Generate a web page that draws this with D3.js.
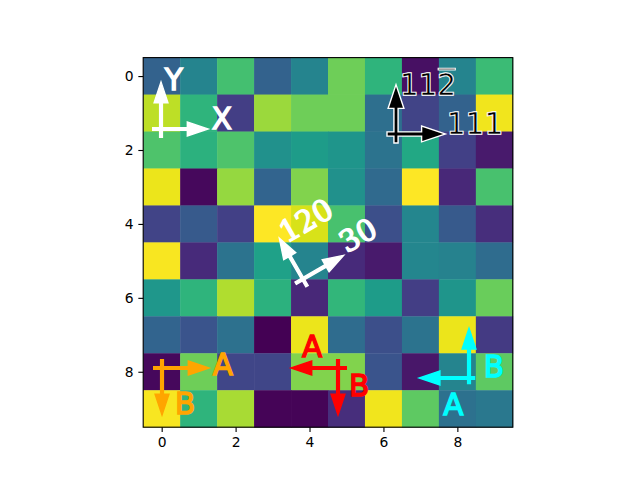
<!DOCTYPE html>
<html><head><meta charset="utf-8">
<script src="https://cdn.jsdelivr.net/npm/d3@7"></script>
<style>body{margin:0;background:#fff}svg{display:block}</style>
</head><body>
<svg id="chart" width="640" height="480"></svg>
<script>
const row0 = [0.31, 0.45, 0.70, 0.31, 0.45, 0.78, 0.65, 0.04, 0.45, 0.68];
const row1 = [0.90, 0.65, 0.18, 0.85, 0.78, 0.78, 0.36, 0.20, 0.31, 0.98];
const row2 = [0.72, 0.64, 0.72, 0.50, 0.55, 0.52, 0.38, 0.60, 0.19, 0.07];
const row3 = [0.97, 0.02, 0.84, 0.32, 0.81, 0.50, 0.34, 1.00, 0.11, 0.71];
const row4 = [0.20, 0.28, 0.19, 1.00, 0.94, 0.71, 0.24, 0.46, 0.28, 0.13];
const row5 = [0.99, 0.12, 0.38, 0.57, 0.45, 0.12, 0.07, 0.46, 0.44, 0.35];
const row6 = [0.53, 0.65, 0.88, 0.64, 0.11, 0.66, 0.55, 0.18, 0.52, 0.77];
const row7 = [0.32, 0.26, 0.37, 0.00, 0.97, 0.35, 0.24, 0.38, 0.97, 0.17];
const row8 = [0.02, 0.78, 0.21, 0.21, 0.81, 0.81, 0.26, 0.06, 0.45, 0.75];
const row9 = [0.99, 0.65, 0.87, 0.01, 0.01, 0.13, 0.98, 0.75, 0.37, 0.40];
const rows = [row0,row1,row2,row3,row4,row5,row6,row7,row8,row9];
const xTicks = [0, 2, 4, 6, 8];
const yTicks = [0, 2, 4, 6, 8];

// direction-arrow annotations (labels and styles)
const arrowLabelsX = ['X', '111', '30', 'A', 'A', ' A'];
const arrowLabelsY = ['Y', '112', '120', 'B', ' B', 'B'];
const arrowColors = ['#ffffff', '#000000', '#ffffff', '#ff0000', '#ffa500', '#00ffff'];
const arrowAngles = [0, 0, 30, 0, 0, 0];
const arrowLengthSign = [1, 1, 1, -1, 1, -1];
const arrowAspect = [1, 1, 1, 1, -1, -1];
const arrowBack = [0.15, 0.15, 0.15, 0.15, 0.15, 0.1];
const arrowSepX = [0.01, 0.01, 0.01, 0.03, 0.01, 0.04];
const arrowSepY = [0, 0, 0, 0.03, -0.02, -0.1];
const arrowCrossX = [0.0482, 0.684, 0.432, 0.5271, 0.0509, 0.8815];
const arrowCrossY = [0.8068, 0.7933, 0.401, 0.1602, 0.1602, 0.1331];

const svg = d3.select('#chart');
const L = 143.2, R = 512.8, T = 57.6, B = 427.2;
const S = R - L;
const x = d3.scaleLinear().domain([-0.5, 9.5]).range([L, R]);
const y = d3.scaleLinear().domain([-0.5, 9.5]).range([T, B]);
const flat = rows.flat();
const color = d3.scaleSequential(d3.interpolateViridis).domain([d3.min(flat), d3.max(flat)]);

// image cells
const cells = [];
rows.forEach((r, i) => r.forEach((v, j) => cells.push({i, j, v})));
svg.append('g').selectAll('rect').data(cells).join('rect')
  .attr('x', d => x(d.j - 0.5)).attr('y', d => y(d.i - 0.5))
  .attr('width', d => x(d.j + 0.5) - x(d.j - 0.5) + 0.4)
  .attr('height', d => y(d.i + 0.5) - y(d.i - 0.5) + 0.4)
  .attr('fill', d => color(d.v));

// axes
const tk = 3.5 * 100 / 72;
const fontTick = 10 * 100 / 72;
const gx = svg.append('g').attr('transform', `translate(0,${B})`)
  .call(d3.axisBottom(x).tickValues(xTicks).tickSize(tk).tickPadding(tk * 1.0));
const gy = svg.append('g').attr('transform', `translate(${L},0)`)
  .call(d3.axisLeft(y).tickValues(yTicks).tickSize(tk).tickPadding(tk * 1.0));
[gx, gy].forEach(g => {
  g.select('.domain').remove();
  g.selectAll('line').attr('stroke', '#000').attr('stroke-width', 0.8 * 100 / 72);
  g.selectAll('text').attr('fill', '#000').style('font-family', 'DejaVu Sans').style('font-size', fontTick + 'px');
});
svg.append('rect').attr('x', L).attr('y', T).attr('width', S).attr('height', B - T)
  .attr('fill', 'none').attr('stroke', '#000').attr('stroke-width', 0.8 * 100 / 72);

// arrow shape helper ("Simple" arrow style)
const pt = 100 / 72;
const tailW = 2 * pt, headW = 10 * pt, headL = 15 * pt;
function arrowPath(x0, y0, x1, y1) {
  const dx = x1 - x0, dy = y1 - y0, len = Math.hypot(dx, dy);
  const ux = dx / len, uy = dy / len, nx = -uy, ny = ux;
  const hx = x1 - ux * headL, hy = y1 - uy * headL;
  const p = [
    [x0 + nx * tailW / 2, y0 + ny * tailW / 2],
    [hx + nx * tailW / 2, hy + ny * tailW / 2],
    [hx + nx * headW / 2, hy + ny * headW / 2],
    [x1, y1],
    [hx - nx * headW / 2, hy - ny * headW / 2],
    [hx - nx * tailW / 2, hy - ny * tailW / 2],
    [x0 - nx * tailW / 2, y0 - ny * tailW / 2]
  ];
  return 'M' + p.map(q => q.join(',')).join('L') + 'Z';
}

const len0 = 0.15 * S;
const fs = 0.08 * S;
const lblAdjY = [0, 0, 0, 0, 0, 5.9];

arrowLabelsX.forEach((lx, k) => {
  const ly = arrowLabelsY[k];
  const col = arrowColors[k];
  const Lx = arrowLengthSign[k] * len0;
  const Ly = Lx * arrowAspect[k];
  const bl = arrowBack[k];
  const sx = arrowSepX[k] * S, sy = arrowSepY[k] * S;
  const cx = L + arrowCrossX[k] * S, cy = B - arrowCrossY[k] * S;
  const g = svg.append('g').attr('transform', `translate(${cx},${cy}) rotate(${-arrowAngles[k]})`);
  const highContrast = k === 1;
  const serif = k === 2;
  const family = serif ? 'DejaVu Serif' : 'DejaVu Sans';
  const paths = [arrowPath(-bl * Lx, 0, (1 - bl) * Lx, 0), arrowPath(0, bl * Ly, 0, -(1 - bl) * Ly)];
  if (highContrast) {
    paths.forEach(p => g.append('path').attr('d', p).attr('fill', '#000').attr('stroke', '#fff')
      .attr('stroke-width', 2 * pt).attr('stroke-linejoin', 'miter'));
    paths.forEach(p => g.append('path').attr('d', p).attr('fill', '#000'));
  } else {
    paths.forEach(p => g.append('path').attr('d', p).attr('fill', col).attr('stroke', col)
      .attr('stroke-width', pt).attr('stroke-linejoin', 'miter'));
  }
  const posX = [(1 - bl) * Lx + sx, -sy];
  const posY = [sx, -(Ly * (1 - 2 * bl) + sy) + lblAdjY[k]];
  [[lx, posX], [ly, posY]].forEach(([txt, pos], idx) => {
    const layers = highContrast ? [['#fff', '#fff', pt], ['#000', '#fff', 0.4 * pt]] : [[col, col, pt]];
    layers.forEach(([fill, stroke, sw]) => {
      const t = g.append('text').attr('x', pos[0]).attr('y', pos[1])
        .attr('fill', fill).attr('stroke', stroke).attr('stroke-width', sw)
        .style('font-family', family).style('font-size', fs + 'px')
        .style('white-space', 'pre').attr('xml:space', 'preserve')
        .text(txt);
      if (highContrast && idx === 1) {
        // overline over the last digit (11 with overlined 2)
        const node = t.node();
        const st = node.getStartPositionOfChar(2).x;
        const w = node.getSubStringLength(2, 1);
        g.append('rect').attr('x', st + 1).attr('y', pos[1] - 0.905 * fs).attr('width', w - 2).attr('height', 0.045 * fs)
          .attr('fill', fill).attr('stroke', stroke).attr('stroke-width', sw);
      }
    });
  });
});
</script>
</body></html>
